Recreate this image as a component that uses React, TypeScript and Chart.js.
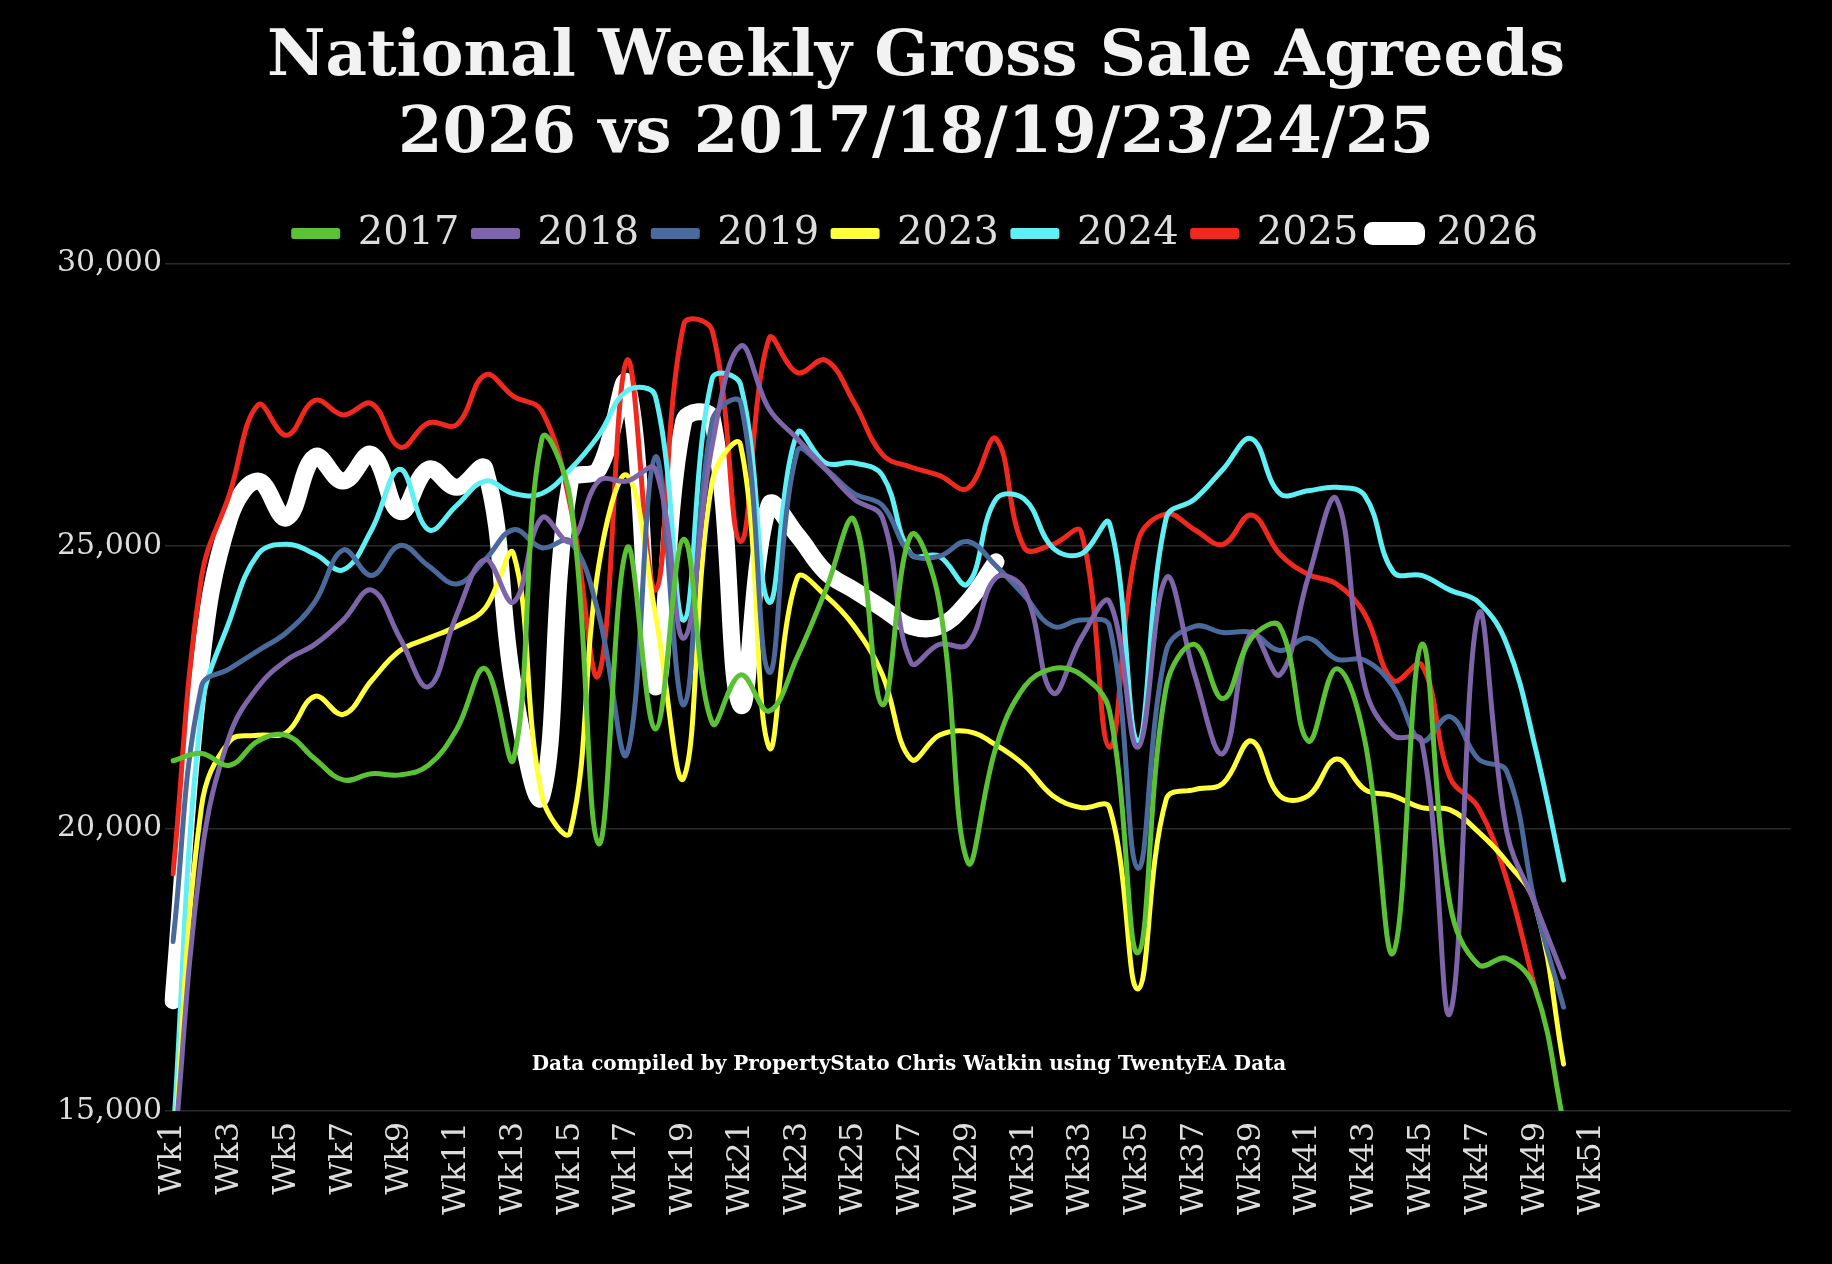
import React, { useEffect, useRef } from "react";
import { Chart, registerables } from "chart.js";
Chart.register(...registerables);

const weeks = Array.from({ length: 58 }, (_, i) => `Wk${i + 1}`);
const s2017 = [21200,21330,21120,21550,21650,21230,20860,20970,20950,21120,21760,22830,21230,26900,25830,19730,24970,21760,25120,21870,22720,22080,23040,24220,25460,22190,25190,24010,19410,21440,22510,22830,22720,22080,17800,22510,23260,22300,23370,23580,21550,22830,21550,17800,23260,18660,17590,17700,17160,14800];
const s2018 = [14000,19500,21650,22510,22980,23260,23690,24220,23370,22510,23790,24760,24010,25500,25080,26150,26150,26360,23370,26790,28540,27430,26900,26360,25830,25500,22940,23260,23260,24440,24220,22400,23370,24010,21440,24440,22720,21330,23470,22720,24440,25830,22510,21650,21550,16730,23790,19940,18660,17370];
const s2019 = [18000,22510,22830,23150,23470,24010,24930,24480,25010,24650,24330,24760,25290,24970,25080,23790,21330,26580,22190,27220,27540,22770,26680,26360,25930,25720,24860,24820,25080,24650,24120,23580,23690,23580,19300,23150,23580,23470,23470,23150,23370,23000,22980,22510,21550,21980,21230,21010,18660,16840];
const s2023 = [14000,20370,21550,21650,21700,22340,22020,22620,23150,23370,23580,23900,24860,20580,19940,24650,26250,23790,20900,26150,26790,21440,24440,24120,23580,22720,21230,21650,21720,21480,21120,20580,20370,20370,17160,20520,20690,20800,21550,20580,20580,21230,20690,20580,20370,20330,19940,19410,18660,15830];
const s2024 = [14500,22080,23690,24860,25030,24860,24580,25290,26360,25290,25720,26150,25930,25930,26360,26960,27750,27650,23690,27970,27860,24010,27000,26470,26470,26250,24860,24820,24330,25830,25830,24970,24860,25400,21550,25500,25830,26360,26900,25930,25980,26040,25890,24540,24480,24220,24010,23260,21440,19090];
const s2025 = [19200,24440,25930,27500,26960,27580,27320,27520,26750,27180,27150,28030,27650,27390,25720,22720,28290,24220,28930,28820,25080,28670,28070,28290,27540,26620,26400,26250,26020,26900,24970,25030,25250,21440,25080,25570,25290,25030,25550,24860,24500,24330,23790,22620,22900,20900,20370,19090,17160];
const s2026 = [16950,22940,25500,26150,25500,26580,26150,26620,25610,26360,26040,26360,22510,20580,26150,26360,27860,22510,27220,27260,22190,25720,25190,24540,24220,23900,23580,23580,24010,24720];

const seriesNames = ["2017", "2018", "2019", "2023", "2024", "2025", "2026"];
const seriesData = [s2017, s2018, s2019, s2023, s2024, s2025, s2026];
const colors = ["#5bc236", "#7e64a8", "#4a6a9c", "#ffff3a", "#5ff0f5", "#f0281e", "#ffffff"];
const widths = [5, 5, 5, 5, 5, 5, 17];

const notePlugin = {
  id: "note",
  afterDraw(chart: any) {
    const { ctx, chartArea } = chart;
    ctx.save();
    ctx.fillStyle = "#ffffff";
    ctx.font = "bold 20px 'DejaVu Serif'";
    ctx.textAlign = "center";
    ctx.fillText("Data compiled by PropertyStato Chris Watkin using TwentyEA Data", 909, chartArea.bottom - 46);
    ctx.restore();
  },
};

export default function App() {
  const ref = useRef<HTMLCanvasElement>(null);
  useEffect(() => {
    document.body.style.margin = "0";
    document.body.style.background = "#000";
    const chart = new Chart(ref.current!, {
      type: "line",
      data: {
        labels: weeks,
        datasets: seriesNames.map((n, i) => ({
          label: n,
          data: seriesData[i],
          borderColor: colors[i],
          backgroundColor: colors[i],
          borderWidth: widths[i],
          pointRadius: 0,
          tension: 0.4,
          borderCapStyle: "round",
          borderJoinStyle: "round",
        })),
      },
      options: {
        responsive: false,
        animation: false,
        layout: { padding: { top: 10, right: 0, left: 0, bottom: 0 } },
        plugins: {
          title: {
            display: true,
            text: ["National Weekly Gross Sale Agreeds", "2026 vs 2017/18/19/23/24/25"],
            color: "#f2f2f2",
            font: { family: "'DejaVu Serif'", size: 64, weight: "bold" },
            padding: { top: 10, bottom: 26 },
            lineHeight: 1.35,
          },
          legend: {
            position: "top",
            align: "center",
            labels: {
              color: "#dddddd",
              font: { family: "'DejaVu Serif'", size: 40 },
              boxWidth: 44,
              boxHeight: 6,
              padding: 14,
            },
          },
          tooltip: { enabled: false },
        },
        scales: {
          x: {
            offset: false,
            grid: { display: false },
            border: { display: false },
            afterFit: (s: any) => { s.height = 153; },
            ticks: {
              autoSkip: false,
              maxRotation: 90,
              minRotation: 90,
              color: "#dddddd",
              font: { family: "'DejaVu Serif'", size: 32 },
              callback: (v: any, i: number) => (i % 2 === 0 && i < 51 ? weeks[i] : ""),
            },
          },
          y: {
            min: 15000,
            max: 30000,
            grid: { color: "#2a2a2a", lineWidth: 1.5 },
            border: { display: false },
            afterFit: (s: any) => { s.width = 173; },
            ticks: {
              stepSize: 5000,
              color: "#dddddd",
              font: { family: "'DejaVu Serif'", size: 30 },
              callback: (v: any) => Number(v).toLocaleString("en-US"),
            },
          },
        },
      },
      plugins: [notePlugin],
    } as any);
    return () => chart.destroy();
  }, []);
  return (
    <div style={{ background: "#000", width: 1832, height: 1264 }}>
      <canvas ref={ref} width={1832} height={1264} />
    </div>
  );
}
